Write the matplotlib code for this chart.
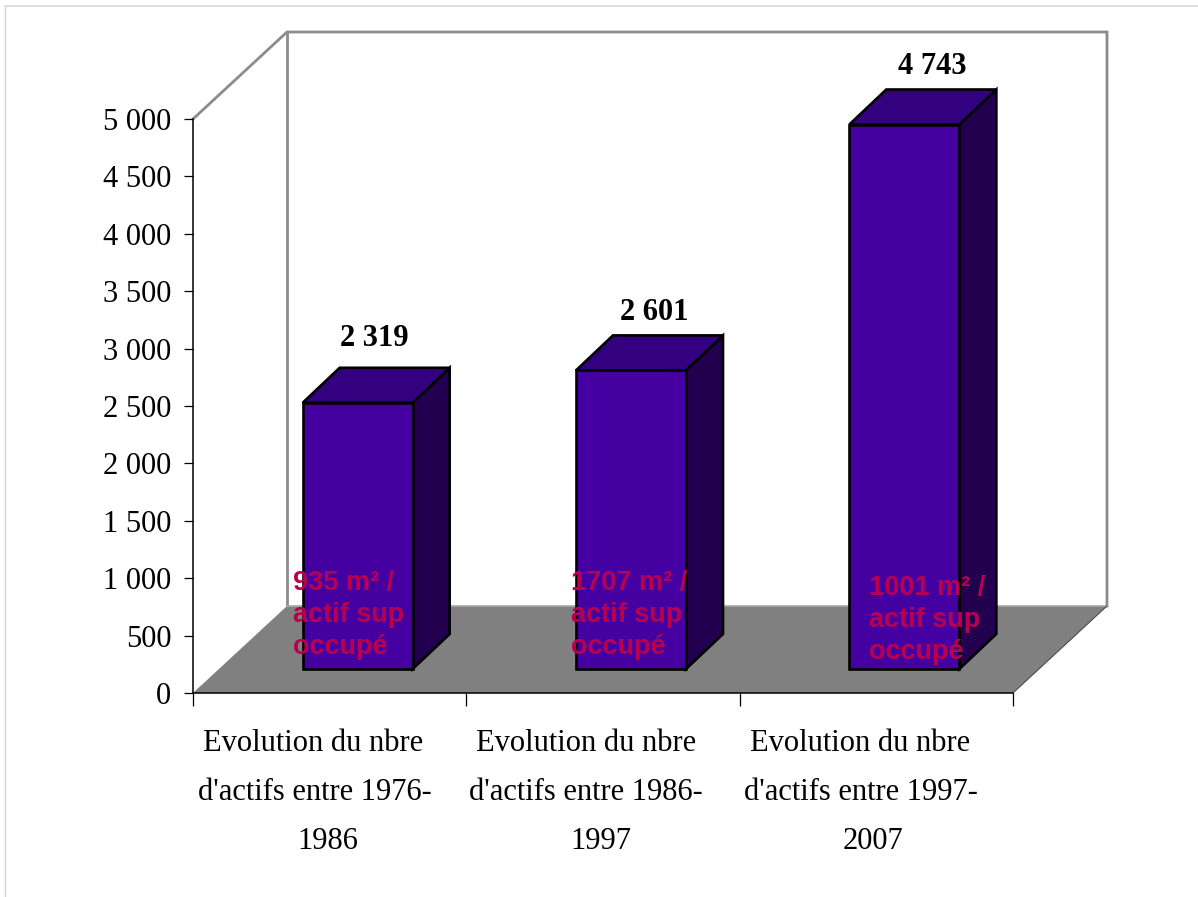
import matplotlib
matplotlib.use("Agg")
import matplotlib.pyplot as plt
from matplotlib.patches import Polygon
from matplotlib.lines import Line2D

categories = [["Evolution du nbre", "d'actifs entre 1976-", "1986"],
              ["Evolution du nbre", "d'actifs entre 1986-", "1997"],
              ["Evolution du nbre", "d'actifs entre 1997-", "2007"]]
values = [2319, 2601, 4743]
value_labels = ["2 319", "2 601", "4 743"]
y_ticks = [0, 500, 1000, 1500, 2000, 2500, 3000, 3500, 4000, 4500, 5000]
y_tick_labels = ["0", "500", "1 000", "1 500", "2 000", "2 500",
                 "3 000", "3 500", "4 000", "4 500", "5 000"]
notes = ["935 m² /\nactif sup\noccupé",
         "1707 m² /\nactif sup\noccupé",
         "1001 m² /\nactif sup\noccupé"]

W, H = 1198, 897
AX_L, AX_R, AX_B, AX_T = 193, 1013, 693, 119


def fig_text(x, y, txt, **kw):
    # place text by pixel position, y measured from the top
    return fig.text(x / W, 1 - y / H, txt, **kw)


fig = plt.figure(figsize=(W / 100, H / 100), dpi=100, facecolor="white")
ax = fig.add_axes([AX_L / W, 1 - AX_B / H, (AX_R - AX_L) / W, (AX_B - AX_T) / H])
ax.set_xlim(-0.5, 2.5)
ax.set_ylim(0, 5000)
ax.patch.set_alpha(0)

# pixels to data units, the fake 3D depth is easier to think about in pixels
px_x = 3 / (AX_R - AX_L)
px_y = 5000 / (AX_B - AX_T)

# back wall and floor
dx, dy = 94 * px_x, 87 * px_y
wall = "#8c8c8c"
x0, x1 = -0.5, 2.5
ax.add_patch(Polygon([(x0, 0), (x0 + dx, dy), (x1 + dx, dy), (x1, 0)],
                     closed=True, fc="#808080", ec="none", zorder=1, clip_on=False))
ax.plot([x0, x0 + dx, x1 + dx, x1 + dx], [5000, 5000 + dy, 5000 + dy, dy],
        color=wall, lw=2, zorder=1, clip_on=False, solid_joinstyle="miter")
ax.plot([x0 + dx, x0 + dx], [5000 + dy, dy], color=wall, lw=2, zorder=1, clip_on=False)
ax.plot([x0 + dx, x1 + dx], [dy, dy], color="#a8a8a8", lw=1.2, zorder=1.5, clip_on=False)
ax.plot([x1, x1 + dx], [0, dy], color="#404040", lw=0.7, zorder=1.5, clip_on=False)

# bars as three faces: front, top, side
bar_w = 110 * px_x
shift_x, base = 28 * px_x, 24 * px_y
side_x, side_y = 37 * px_x, 35 * px_y
for i, v in enumerate(values):
    left = i + shift_x - bar_w / 2
    right = left + bar_w
    top = base + v
    style = dict(closed=True, ec="black", lw=1.9, zorder=3, clip_on=False,
                 joinstyle="miter")
    ax.add_patch(Polygon([(right, base), (right + side_x, base + side_y),
                          (right + side_x, top + side_y), (right, top)],
                         fc="#22004f", **style))
    ax.add_patch(Polygon([(left, top), (right, top), (right + side_x, top + side_y),
                          (left + side_x, top + side_y)], fc="#330080", **style))
    ax.add_patch(Polygon([(left, base), (right, base), (right, top), (left, top)],
                         fc="#4400a0", **style))

# value labels sit at slightly different spots above each bar
value_px = [(374.5, 338), (654, 312), (932.5, 67)]
for (x, y), txt in zip(value_px, value_labels):
    fig_text(x, y, txt, ha="center", va="center", family="Liberation Serif",
             fontweight="bold", fontsize=22, color="black", zorder=5)

# axes
for side in ("top", "right"):
    ax.spines[side].set_visible(False)
ax.spines["left"].set_linewidth(1.1)
ax.spines["bottom"].set_linewidth(1.1)
ax.spines["left"].set_zorder(2)
ax.spines["bottom"].set_zorder(2)
ax.set_yticks(y_ticks)
ax.set_yticklabels(y_tick_labels, family="Liberation Serif", fontsize=22)
ax.tick_params(axis="y", length=6.5, width=0.9, pad=9)
ax.set_xticks([-0.5, 0.5, 1.5, 2.5])
ax.set_xticklabels([])
ax.tick_params(axis="x", length=9, width=0.9)

# the last line of each category label is set off to the right
line_y = [743, 792, 841]
line_x = [(313, 314.5, 328), (586, 586, 601), (860, 861, 872.5)]
for lines, xs in zip(categories, line_x):
    for txt, x, y in zip(lines, xs, line_y):
        fig_text(x, y, txt, ha="center", va="center", family="Liberation Serif",
                 fontsize=22, color="black")

note_px = [(293, 615), (571, 615), (869, 620)]
for (x, y), txt in zip(note_px, notes):
    fig_text(x, y, txt, ha="left", va="center", zorder=6,
             family="Liberation Sans", fontweight="bold", fontsize=19.5,
             linespacing=1.29, color="#b8004f")

# thin frame along the top and left edges
fig.add_artist(Line2D([4.5 / W, 4.5 / W], [0, 1 - 6 / H], color="#d4d4d4", lw=1))
fig.add_artist(Line2D([4.5 / W, 1], [1 - 6 / H, 1 - 6 / H], color="#dedede", lw=1.4))

fig.savefig("out.png", dpi=100)
